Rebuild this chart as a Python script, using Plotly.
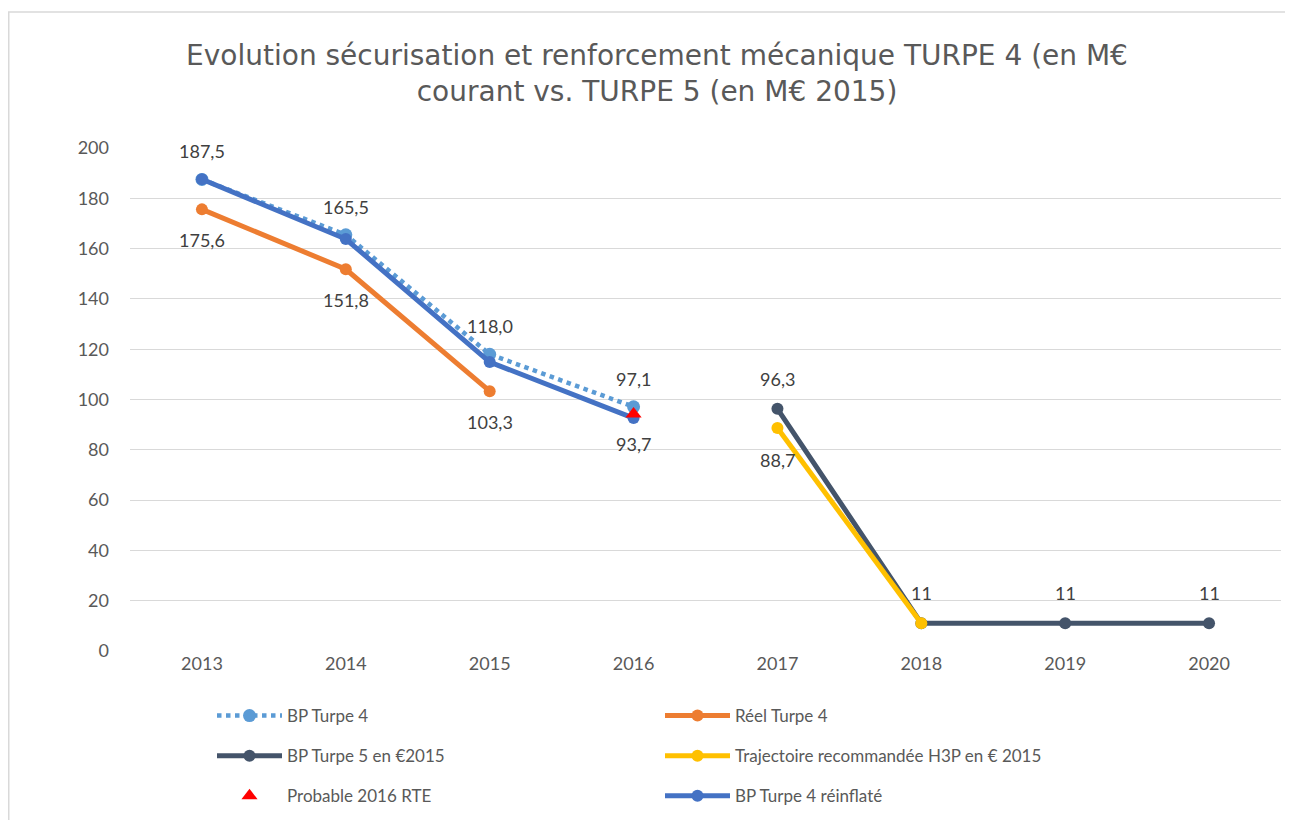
import plotly.graph_objects as go

years = ["2013", "2014", "2015", "2016", "2017", "2018", "2019", "2020"]
bp_turpe4 = [187.5, 165.5, 118.0, 97.1, None, None, None, None]
reel_turpe4 = [175.6, 151.8, 103.3, None, None, None, None, None]
bp_turpe5 = [None, None, None, None, 96.3, 11, 11, 11]
h3p = [None, None, None, None, 88.7, 11, None, None]
h3p_labels = ["", "", "", "", "88,7", "", "", ""]
probable_2016 = [None, None, None, 94.2, None, None, None, None]
probable_labels = ["", "", "", "93,7", "", "", "", ""]
reinflate = [187.6, 163.8, 114.9, 92.6, None, None, None, None]

TXT = "#404040"
AX = "#595959"
FONT = "Lato"

W, H = 1293, 820
# plot area in figure pixels (the page adds an 8px body margin)
L, R, T, B = 122, 1273, 140, 643
PW, PH = R - L, B - T

def px(xf):
    return (xf - L) / PW

def py(yf):
    return (B - yf) / PH

def fmt(v):
    if v is None:
        return ""
    if float(v).is_integer() and v < 20:
        return str(int(v))
    return f"{v:.1f}".replace(".", ",")

fig = go.Figure()

fig.add_trace(go.Scatter(x=years, y=bp_turpe4, name="BP Turpe 4", mode="lines+markers",
                         line=dict(color="#5B9BD5", width=4.5, dash="dot"),
                         marker=dict(size=13, color="#5B9BD5"), legend="legend", legendgroup="a"))
fig.add_trace(go.Scatter(x=years, y=reel_turpe4, name="Réel Turpe 4", mode="lines+markers",
                         line=dict(color="#ED7D31", width=5),
                         marker=dict(size=12, color="#ED7D31"), legend="legend2", legendgroup="b"))
fig.add_trace(go.Scatter(x=years, y=bp_turpe5, name="BP Turpe 5 en €2015", mode="lines+markers",
                         line=dict(color="#44546A", width=5),
                         marker=dict(size=12, color="#44546A"), legend="legend", legendgroup="c"))
fig.add_trace(go.Scatter(x=years, y=h3p, name="Trajectoire recommandée H3P en € 2015", mode="lines+markers",
                         line=dict(color="#FFC000", width=5),
                         marker=dict(size=12, color="#FFC000"), legend="legend2", legendgroup="d"))
fig.add_trace(go.Scatter(x=years, y=reinflate, name="BP Turpe 4 réinflaté", mode="lines+markers",
                         line=dict(color="#4472C4", width=5),
                         marker=dict(size=12, color="#4472C4"), legend="legend2", legendgroup="e"))
fig.add_trace(go.Scatter(x=years, y=probable_2016, name="Probable 2016 RTE", mode="markers",
                         marker=dict(size=14, color="#FF0000", symbol="triangle-up"),
                         legend="legend", legendgroup="f"))

annotations = []
def add_labels(vals, shift, texts=None):
    for i, v in enumerate(vals):
        if v is None:
            continue
        t = texts[i] if texts else fmt(v)
        if not t:
            continue
        annotations.append(dict(x=i, y=v, xref="x", yref="y", text=t,
                                showarrow=False, yshift=shift,
                                font=dict(family=FONT, size=18, color=TXT)))

add_labels(bp_turpe4, 28)
add_labels(reel_turpe4, -31)
add_labels(bp_turpe5, 30)
add_labels(h3p, -32, h3p_labels)
add_labels(probable_2016, -30, probable_labels)

fig.update_layout(
    width=W, height=H,
    paper_bgcolor="white", plot_bgcolor="white",
    margin=dict(l=L, r=W - R, t=T, b=H - B, autoexpand=False),
    title=dict(text="Evolution sécurisation et renforcement mécanique TURPE 4 (en M€<br>courant vs. TURPE 5 (en M€ 2015)",
               x=px(649), xref="paper", xanchor="center", y=1 - 56.6 / H, yanchor="top",
               font=dict(family="DejaVu Sans", size=28, color=AX)),
    font=dict(family=FONT, color=AX),
    xaxis=dict(type="category", categoryorder="array", categoryarray=years,
               range=[-0.5, 7.5], showgrid=False, showline=False, zeroline=False,
               ticks="", tickfont=dict(size=18, color=AX)),
    yaxis=dict(range=[0, 200], dtick=20, showgrid=True, gridcolor="#D9D9D9", gridwidth=1.3,
               zeroline=False, showline=False, ticks="", ticklabelstandoff=20,
               tickfont=dict(size=18, color=AX)),
    legend=dict(x=px(204), xanchor="left", y=py(690), yanchor="top",
                itemwidth=65, tracegroupgap=15, font=dict(family=FONT, size=17, color=AX),
                bgcolor="rgba(0,0,0,0)"),
    legend2=dict(x=px(652), xanchor="left", y=py(690), yanchor="top",
                 itemwidth=65, tracegroupgap=15, font=dict(family=FONT, size=17, color=AX),
                 bgcolor="rgba(0,0,0,0)"),
    annotations=annotations,
    shapes=[
        dict(type="line", xref="paper", yref="paper", x0=px(0), x1=px(1300),
             y0=py(4), y1=py(4), line=dict(color="#D9D9D9", width=1.5)),
        dict(type="line", xref="paper", yref="paper", x0=px(0.75), x1=px(0.75),
             y0=py(4), y1=py(830), line=dict(color="#D9D9D9", width=1.5)),
    ],
)

fig.write_html("out.html")
